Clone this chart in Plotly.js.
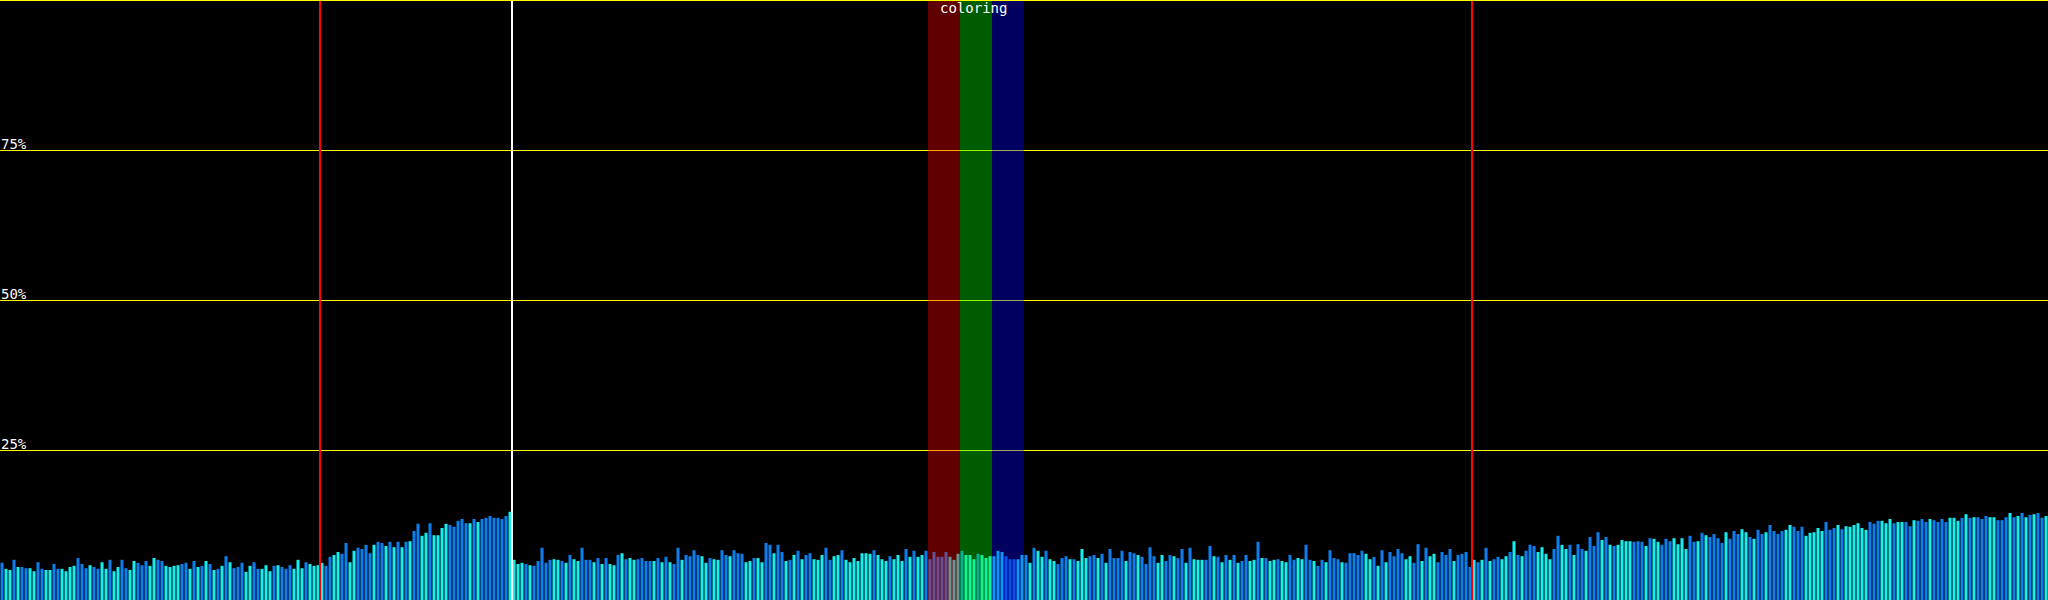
<!DOCTYPE html>
<html>
<head>
<meta charset="utf-8">
<script src="https://cdn.plot.ly/plotly-3.0.1.min.js"></script>
<style>
  html, body { margin: 0; padding: 0; background: #000; }
  #chart { width: 2048px; height: 600px; }
</style>
</head>
<body>
<div id="chart"></div>
<script>
// Bar values (percent), 512 bars
const barValues = [
  6.2,5.2,5.0,6.7,5.5,5.5,5.3,5.3,4.8,6.3,5.2,5.0,5.0,6.0,5.2,5.2,
  4.8,5.5,5.7,7.0,6.0,5.3,5.8,5.5,5.2,6.3,5.2,6.7,4.8,5.5,6.7,5.3,
  5.0,6.5,6.2,5.8,6.5,5.7,7.0,6.7,6.5,5.7,5.5,5.7,5.8,6.0,6.2,5.2,
  6.5,5.5,5.7,6.5,6.0,5.0,5.2,5.7,7.3,6.3,5.3,5.5,6.2,4.7,5.7,6.3,
  5.2,5.2,5.8,4.8,5.7,5.8,5.5,5.2,5.8,5.2,6.7,5.3,6.3,6.0,5.7,5.8,
  6.2,5.7,7.2,7.5,8.0,7.7,9.5,6.3,8.2,8.7,8.5,9.2,7.8,9.2,9.7,9.5,
  9.0,9.7,8.8,9.7,8.8,9.7,9.8,11.5,12.7,10.7,11.2,12.8,10.8,10.8,12.0,12.7,
  12.5,12.2,13.2,13.5,12.8,12.8,13.5,13.0,13.5,13.7,14.0,13.7,13.7,13.5,14.0,14.7,
  6.7,6.0,6.2,6.0,5.8,5.7,6.5,8.7,6.2,6.7,6.8,6.7,6.5,6.2,7.5,6.8,
  6.5,8.7,6.7,6.7,6.3,7.0,6.0,7.0,6.0,5.8,7.5,7.8,6.8,7.0,6.7,6.8,
  7.0,6.5,6.5,6.5,7.0,6.3,7.2,6.3,6.0,8.7,6.7,7.5,7.3,8.3,7.5,7.3,
  6.2,7.0,6.8,6.7,8.3,7.5,7.3,8.3,7.8,7.7,6.3,6.5,7.0,7.0,6.3,9.5,
  9.2,7.8,9.2,8.0,6.5,6.7,7.5,8.2,6.8,7.5,7.8,6.8,6.7,7.5,8.7,6.7,
  7.3,7.5,8.3,6.7,6.3,7.0,6.5,7.8,7.8,7.7,8.3,7.5,6.8,6.5,7.3,6.8,
  7.5,6.5,8.5,7.2,8.2,7.2,7.5,8.2,6.8,8.0,7.2,7.2,8.0,7.2,6.7,7.7,
  8.2,7.5,7.5,6.8,7.7,7.5,7.0,7.3,7.3,8.2,8.0,7.3,6.8,6.8,6.8,7.5,
  7.5,6.2,8.7,8.2,7.2,8.2,6.8,6.5,6.0,7.0,7.3,6.8,6.8,6.5,8.5,7.0,
  7.3,7.5,7.0,7.7,6.2,8.5,7.0,7.0,8.2,6.5,8.0,7.8,7.5,7.2,6.0,8.8,
  7.3,6.2,7.5,6.5,7.5,7.3,7.0,8.5,6.2,8.7,6.8,6.7,6.7,6.7,9.0,7.3,
  7.2,6.3,7.5,6.7,7.5,6.2,6.5,7.5,6.5,6.7,9.7,7.0,7.0,6.5,6.7,6.8,
  6.5,6.3,7.5,6.7,7.0,6.8,9.2,6.7,6.5,5.7,6.7,6.3,8.3,7.0,6.8,6.3,
  6.2,7.8,7.8,7.5,8.2,7.7,6.8,7.2,5.7,8.3,6.3,8.0,7.3,8.5,7.8,6.8,
  7.3,6.2,9.3,6.5,8.7,7.3,7.7,6.3,8.0,7.5,8.5,6.5,7.5,7.7,8.0,5.5,
  6.7,6.3,6.7,8.7,6.5,6.8,7.2,6.8,7.3,8.0,9.8,7.5,7.3,8.2,9.2,9.0,
  8.0,8.8,7.7,6.8,8.5,10.7,9.2,8.5,9.2,7.5,9.3,8.5,8.2,10.5,9.0,11.3,
  10.0,10.5,9.2,9.0,9.2,10.0,9.8,9.8,9.7,9.8,9.7,9.0,10.3,10.2,9.7,9.2,
  10.2,9.8,10.3,9.3,10.3,8.5,10.7,9.7,9.8,11.2,10.8,10.5,11.0,10.3,9.5,11.3,
  10.2,11.5,11.0,11.8,11.3,10.5,10.2,11.7,11.0,11.3,12.5,11.5,11.0,11.5,11.7,12.5,
  12.2,11.5,12.2,10.7,11.2,11.3,12.0,11.5,13.0,11.7,12.0,12.5,11.8,12.3,12.2,12.5,
  12.8,12.0,11.7,13.0,12.7,13.2,13.2,12.8,13.5,12.8,13.0,13.0,13.0,12.3,13.3,13.2,
  13.5,13.0,13.5,13.3,13.0,13.5,13.0,13.7,13.7,13.2,13.7,14.3,13.7,13.8,13.8,13.5,
  14.0,13.8,13.8,13.3,13.3,13.8,14.5,13.8,14.0,14.5,13.8,14.2,14.3,14.5,13.7,14.0
];

// Bar colour class per bar: B = blue, C = cyan
const barKinds = (
  "BCCBCBBCCBBCCBBC" + "CCCBBBCBBCCBCCBB" + "CCBBBCCBBCCCCBBC" + "BCBCBCBCBCBBBCCB" +
  "BCCCBCBBBCCCBCCC" + "CBBCCBBCCBBBBCBB" + "CBCBCBCBBCCBCCCC" + "BBBBBCBCBBBBBBBC" +
  "CCCBCBBBBBCCBCBC" + "CBBBCBCBCCBCBCCB" + "BBBCBCBCBBCBBBBC" + "CBCCBBCBBBCCBCCB" +
  "BCBBCBCBCBBCCCBB" + "CCBCCCCCCCBCCCBC" + "CCBCBCCBBBBBBCCC" + "BCCCBCCCCCCBBBCC" +
  "BCBCCBCCBBBCBCCC" + "BBCBCBBBBCBBCBBB" + "BCCBBCBBCBCCCBBC" + "BCBCBCBBCCBCBCCB" +
  "CCBBCCBBCBBCBBBC" + "BBBBBCCBCBCBBBBC" + "CBBCBCCBBBBCBBBB" + "CBCBCBBCCBCBCBBB" +
  "CCCCBBCCBCBBCBBB" + "CBCBCCCCBBBCBCCB" + "BBCCCCBBCBCBBBBC" + "BBBCCBCBBCBBBBCC" +
  "BBBCCCCCBBBCBCCC" + "CCCBBBCCCBCCBBCB" + "BBCBBBBCCCBCBCBB" + "BCCBBBCBCBCBCBBC"
).split("");

const kindColors = { B: "#0a80f0", C: "#10f0f0" };

// Tick labels
const yTickVals = [25, 50, 75, 100];
const yTickText = ["25%", "50%", "75%", "100%"];

// Marker lines (bar index where a section starts)
const redMarkers = [80, 368];
const whiteMarkers = [128];

// Highlighted bands: [first bar, last bar, colour]
const bandStarts = [232, 240, 248];
const bandEnds = [239, 247, 255];
const bandColors = ["rgba(255,0,0,0.375)", "rgba(0,255,0,0.36)", "rgba(0,0,255,0.37)"];
const bandLabel = "coloring";

const xs = barValues.map((_, i) => i);
const colors = barKinds.map(k => kindColors[k]);

const shapes = [];
bandStarts.forEach((s, k) => {
  shapes.push({
    type: "rect", xref: "x", yref: "paper",
    x0: s - 0.5, x1: bandEnds[k] + 0.5, y0: 0, y1: 1,
    fillcolor: bandColors[k], line: { width: 0 }, layer: "above"
  });
});
redMarkers.forEach(m => shapes.push({
  type: "line", xref: "x", yref: "paper", x0: m - 0.5, x1: m - 0.5, y0: 0, y1: 1,
  line: { color: "#ff0000", width: 2 }, layer: "above"
}));
whiteMarkers.forEach(m => shapes.push({
  type: "line", xref: "x", yref: "paper", x0: m - 0.5, x1: m - 0.5, y0: 0, y1: 1,
  line: { color: "#ffffff", width: 2 }, layer: "above"
}));
// top (100%) grid line, which sits on the plot edge
shapes.push({
  type: "line", xref: "paper", yref: "y", x0: 0, x1: 1,
  y0: yTickVals[yTickVals.length - 1], y1: yTickVals[yTickVals.length - 1],
  line: { color: "#ffff00", width: 2 }, layer: "above"
});

const trace = {
  type: "bar",
  x: xs,
  y: barValues,
  marker: { color: colors, line: { width: 0 } },
  hoverinfo: "none"
};

const layout = {
  width: 2048, height: 600,
  margin: { l: 0, r: 0, t: 0, b: 0, pad: 0 },
  paper_bgcolor: "#000000",
  plot_bgcolor: "#000000",
  bargap: 0.25,
  showlegend: false,
  xaxis: {
    range: [-0.5, 511.5], showgrid: false, zeroline: false,
    showticklabels: false, ticks: "", showline: false, fixedrange: true
  },
  yaxis: {
    range: [0, 100], tickvals: yTickVals, ticktext: yTickText,
    showgrid: true, gridcolor: "#ffff00", gridwidth: 1,
    zeroline: false, showline: false, ticks: "",
    ticklabelposition: "inside top",
    ticklabelshift: 4,
    ticklabelstandoff: -2,
    tickfont: { family: "DejaVu Sans Mono, monospace", size: 14, color: "#ffffff" },
    fixedrange: true
  },
  shapes: shapes,
  annotations: [{
    text: bandLabel, xref: "x", yref: "paper",
    x: (bandStarts[0] + bandEnds[bandEnds.length - 1]) / 2, y: 1,
    xanchor: "center", yanchor: "top", showarrow: false, xshift: -3, yshift: 2,
    font: { family: "DejaVu Sans Mono, monospace", size: 14, color: "#ffffff" }
  }]
};

Plotly.newPlot("chart", [trace], layout, { displayModeBar: false, staticPlot: true });
</script>
</body>
</html>
